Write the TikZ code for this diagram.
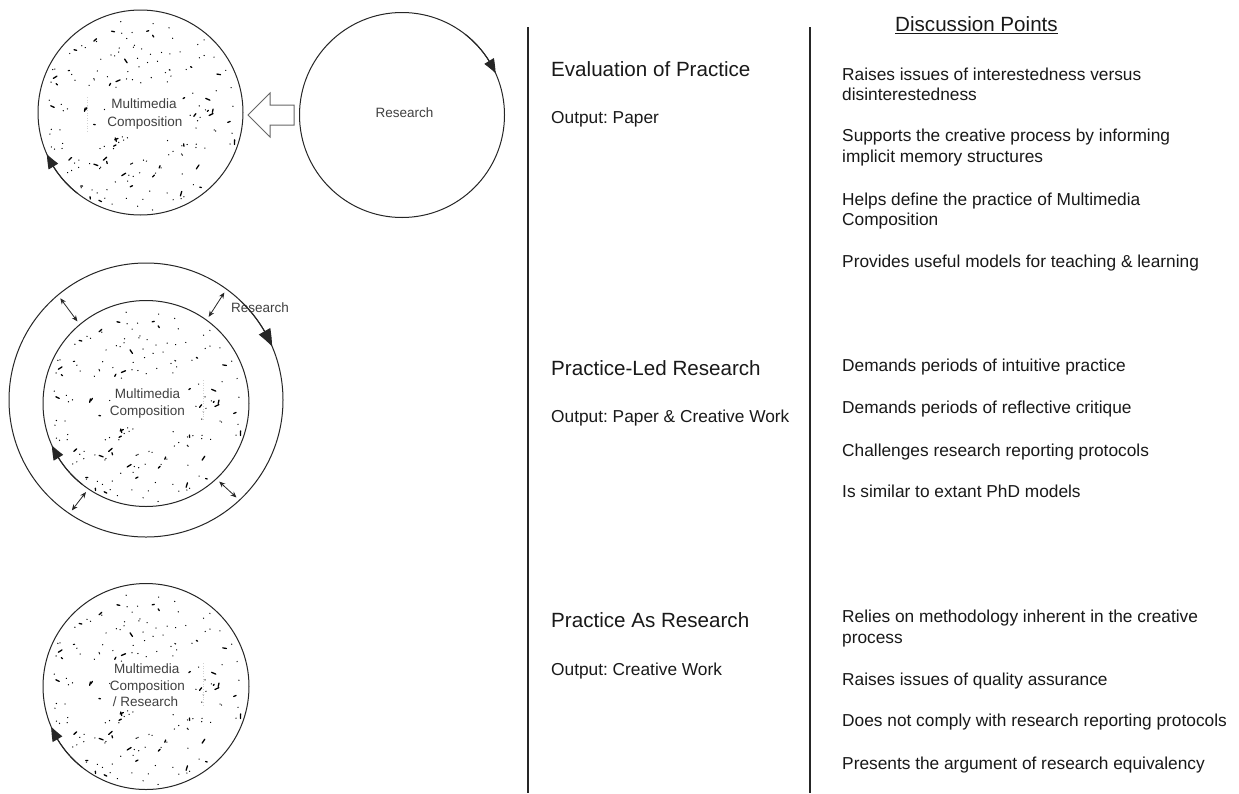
\documentclass[tikz,border=0pt]{standalone}
\usepackage{fontspec}
\setmainfont{Liberation Sans}
\usetikzlibrary{arrows.meta,bending}
\frenchspacing

% random ink speckles inside a disc of radius #3 centred at (#1,#2),
% leaving the label area in the middle clear
\newcommand\drawspecks[3]{%
  \pgfmathsetseed{2718}%
  \foreach \k in {1,...,210}{%
    \pgfmathsetmacro\spA{360*rnd}%
    \pgfmathsetmacro\spR{(#3-4)*sqrt(rnd)}%
    \pgfmathsetmacro\spX{\spR*cos(\spA)}%
    \pgfmathsetmacro\spY{\spR*sin(\spA)}%
    \pgfmathsetmacro\spD{360*rnd}%
    \pgfmathsetmacro\spL{rnd<0.8 ? 0.1 : 1.2+3.5*rnd}%
    \pgfmathtruncatemacro\spIn{and(abs(\spX-4)<40, abs(\spY)<24)}%
    \ifnum\spIn=0
      \draw[speck] ({#1+\spX},{#2+\spY}) -- ++(\spD:\spL);
    \fi
  }%
}

\tikzset{
  speck/.style={line width=1.3pt, line cap=round, black},
  ring/.style={circle, draw=black!85, line width=1pt, inner sep=0pt, outer sep=0pt},
  flow/.style={black!85, line width=1pt, -{Triangle[length=14pt,width=11pt,bend]}},
  bigflow/.style={black!85, line width=1pt, -{Triangle[length=17pt,width=13pt,bend]}},
  gap/.style={black!85, line width=0.8pt, {Stealth[length=6pt,width=5pt]}-{Stealth[length=6pt,width=5pt]}, shorten <=4pt, shorten >=4pt},
  faint/.style={black!18, dotted, line width=0.6pt},
  divider/.style={black!85, line width=1.4pt},
  heading/.style={anchor=base west, inner sep=0pt, text=black!90, font=\fontsize{20.6}{24}\selectfont},
  body/.style={anchor=base west, inner sep=0pt, text=black!90, font=\fontsize{17.3}{20}\selectfont},
  clabel/.style={anchor=base, inner sep=0pt, text=black!75, font=\fontsize{13.5}{18}\selectfont},
}

\begin{document}
\begin{tikzpicture}[x=1pt, y=-1pt]
\fill[white] (0,0) rectangle (1239,793);
\useasboundingbox (0,0) rectangle (1239,793);

% ---------------- evaluation of practice ----------------
\drawspecks{140.5}{112.5}{102.5}
\node[ring, minimum size=205pt] (mc1) at (140.5,112.5) {};
\draw[faint] (87,97) -- (87,132);
\node[clabel] (mc1a) at (144,108) {Multimedia};
\node[clabel] (mc1b) at (145,126) {Composition};
\draw[flow] ([shift={(128:102.5)}]140.5,112.5) arc[start angle=128, end angle=156, radius=102.5];

\node[ring, minimum size=205pt] (res) at (402,115) {};
\node[clabel] (resl) at (404.5,117.3) {Research};
\draw[flow] ([shift={(-52:102.5)}]402,115) arc[start angle=-52, end angle=-24, radius=102.5];

% hollow arrow from research into the composition
\draw[black!60, line width=1pt, fill=white, line join=miter]
  (248,115) -- (270,93) -- (270,105) -- (294,105) -- (294,125) -- (270,125) -- (270,137) -- cycle;

% ---------------- practice-led research ----------------
\node[ring, minimum size=274pt] (mo) at (146,400) {};
\drawspecks{146}{403.5}{103}
\node[ring, minimum size=206pt] (mi) at (146,403.5) {};
\draw[faint] (203,380) -- (203,420);
\node[clabel] (mi1) at (147.5,398.3) {Multimedia};
\node[clabel] (mi2) at (147.5,415) {Composition};
\node[clabel] (mor) at (260,312.7) {Research};
\draw[bigflow] ([shift={(-46:137)}]146,400) arc[start angle=-46, end angle=-23, radius=137];
\draw[flow] ([shift={(128:103)}]146,403.5) arc[start angle=128, end angle=156, radius=103];
\draw[gap] (mi.130) -- (mo.130);
\draw[gap] (mi.54.5) -- (mo.54.5);
\draw[gap] (mi.236.7) -- (mo.236.7);
\draw[gap] (mi.313.8) -- (mo.313.8);

% ---------------- practice as research ----------------
\drawspecks{146}{686.5}{103}
\node[ring, minimum size=206pt] (mc3) at (146,686.5) {};
\draw[faint] (203,663) -- (203,705);
\node[clabel] (mc3a) at (146.7,673.3) {Multimedia};
\node[clabel] (mc3b) at (147.5,690.7) {Composition};
\node[clabel] (mc3c) at (145.5,706.7) {/ Research};
\draw[flow] ([shift={(128:103)}]146,686.5) arc[start angle=128, end angle=157, radius=103];

% ---------------- column dividers ----------------
\draw[divider] (528,27) -- (528,793);
\draw[divider] (810,27) -- (810,793);

% ---------------- middle column ----------------
\node[heading] (t1) at (551,76) {Evaluation of Practice};
\node[body] (o1) at (551,123) {Output: Paper};
\node[heading] (t2) at (551,375) {Practice-Led Research};
\node[body] (o2) at (551,422) {Output: Paper \& Creative Work};
\node[heading] (t3) at (551,627) {Practice As Research};
\node[body] (o3) at (551,675) {Output: Creative Work};

% ---------------- discussion points ----------------
\node[heading] (dp) at (895,31) {Discussion Points};
\draw[black!90, line width=1pt] ([yshift=-1.8pt]dp.south west) -- ([yshift=-1.8pt]dp.south east);

\node[body] (p1a) at (842,80) {Raises issues of interestedness versus};
\node[body] (p1b) at (842,100) {disinterestedness};
\node[body] (p2a) at (842,141.7) {Supports the creative process by informing};
\node[body] (p2b) at (842,162) {implicit memory structures};
\node[body] (p3a) at (842,205) {Helps define the practice of Multimedia};
\node[body] (p3b) at (842,225) {Composition};
\node[body] (p4) at (842,267.3) {Provides useful models for teaching \& learning};

\node[body] (q1) at (842,371.7) {Demands periods of intuitive practice};
\node[body] (q2) at (842,413.3) {Demands periods of reflective critique};
\node[body] (q3) at (842,456) {Challenges research reporting protocols};
\node[body] (q4) at (842,497.3) {Is similar to extant PhD models};

\node[body] (r1a) at (842,622.3) {Relies on methodology inherent in the creative};
\node[body] (r1b) at (842,643.3) {process};
\node[body] (r2) at (842,685) {Raises issues of quality assurance};
\node[body] (r3) at (842,726.7) {Does not comply with research reporting protocols};
\node[body] (r4) at (842,769) {Presents the argument of research equivalency};
\end{tikzpicture}
\end{document}
